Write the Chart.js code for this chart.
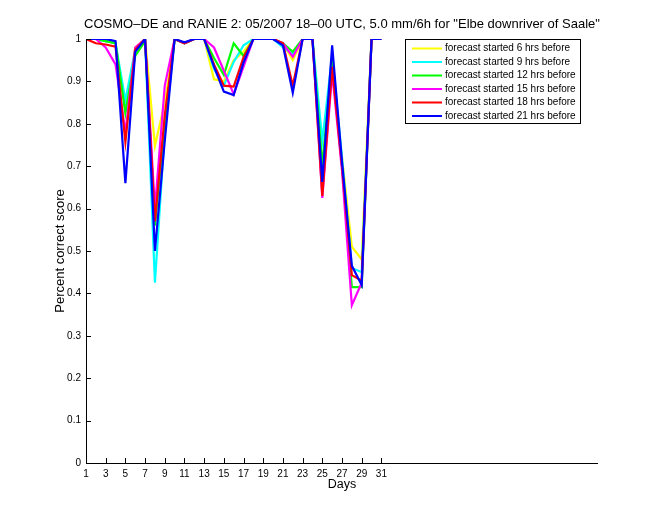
<!DOCTYPE html>
<html>
<head>
<meta charset="utf-8">
<script src="https://cdn.jsdelivr.net/npm/chart.js@4/dist/chart.umd.min.js"></script>
<style>
html,body{margin:0;padding:0;background:#fff;}
canvas{display:block;}
</style>
</head>
<body>
<canvas id="c" width="660" height="520"></canvas>
<script>
const days = [1,2,3,4,5,6,7,8,9,10,11,12,13,14,15,16,17,18,19,20,21,22,23,24,25,26,27,28,29,30,31];
const seriesNames = ['forecast started 6 hrs before','forecast started 9 hrs before','forecast started 12 hrs before','forecast started 15 hrs before','forecast started 18 hrs before','forecast started 21 hrs before'];
const seriesColors = ['#ffff00','#00ffff','#00ff00','#ff00ff','#ff0000','#0000ff'];
const fc6h  = [1,1,0.995,0.99,0.83,0.98,1,0.748,0.85,1,0.99,1,1,0.905,0.9,0.95,0.97,1,1,1,0.99,0.95,1,1,0.70,0.93,0.72,0.51,0.48,1,1];
const fc9h  = [1,1,0.995,0.99,0.855,0.975,1,0.425,0.78,1,0.99,1,1,0.93,0.89,0.946,0.985,1,1,1,0.98,0.965,1,1,0.76,0.96,0.72,0.46,0.45,1,1];
const fc12h = [1,1,0.995,0.99,0.825,0.96,0.995,0.56,0.80,1,0.99,1,1,0.955,0.915,0.99,0.96,1,1,1,0.99,0.97,1,1,0.70,0.95,0.70,0.415,0.415,1,1];
const fc15h = [1,1,0.98,0.94,0.78,0.98,1,0.60,0.89,1,0.99,1,1,0.98,0.925,0.87,0.935,1,1,1,0.99,0.958,1,1,0.625,0.92,0.69,0.372,0.425,1,1];
const fc18h = [1,0.99,0.987,0.982,0.757,0.975,1,0.57,0.82,1,0.99,1,1,0.94,0.89,0.888,0.957,1,1,1,0.99,0.89,1,1,0.63,0.935,0.70,0.443,0.43,1,1];
const fc21h = [1,1,1,0.995,0.66,0.97,1,0.50,0.76,1,0.992,1,1,0.935,0.876,0.868,0.945,1,1,1,0.985,0.873,1,1,0.663,0.985,0.71,0.465,0.42,1,1];
const xTicks = [1,3,5,7,9,11,13,15,17,19,21,23,25,27,29,31];
const yTicks = [0,0.1,0.2,0.3,0.4,0.5,0.6,0.7,0.8,0.9,1];
const yTickLabels = ['0','0.1','0.2','0.3','0.4','0.5','0.6','0.7','0.8','0.9','1'];
const titleText = 'COSMO\u2013DE and RANIE 2: 05/2007 18\u201300 UTC, 5.0 mm/6h for "Elbe downriver of Saale"';
const xLabel = 'Days';
const yLabel = 'Percent correct score';

const allSeries = [fc6h, fc9h, fc12h, fc15h, fc18h, fc21h];
const FONT = 'Liberation Sans, Arial, Helvetica, sans-serif';

const datasets = allSeries.map((s, i) => ({
  label: seriesNames[i],
  data: days.map((d, j) => ({x: d, y: s[j]})),
  borderColor: seriesColors[i],
  backgroundColor: seriesColors[i],
  borderWidth: 2.2,
  pointRadius: 0,
  tension: 0,
  fill: false,
  order: allSeries.length - i
}));

const decor = {
  id: 'decor',
  afterDraw(chart) {
    const ctx = chart.ctx;
    const a = chart.chartArea;
    const xs = chart.scales.x, ys = chart.scales.y;
    ctx.save();
    ctx.strokeStyle = '#000';
    ctx.lineWidth = 1;
    ctx.beginPath();
    ctx.moveTo(Math.round(a.left) + 0.5, a.top);
    ctx.lineTo(Math.round(a.left) + 0.5, Math.round(a.bottom) + 0.5);
    ctx.lineTo(a.right, Math.round(a.bottom) + 0.5);
    xTicks.forEach(v => {
      const px = Math.round(xs.getPixelForValue(v)) + 0.5;
      ctx.moveTo(px, a.bottom);
      ctx.lineTo(px, a.bottom - 5);
    });
    yTicks.forEach(v => {
      const py = Math.round(ys.getPixelForValue(v)) + 0.5;
      ctx.moveTo(a.left, py);
      ctx.lineTo(a.left + 5, py);
    });
    ctx.stroke();

    ctx.fillStyle = '#000';
    ctx.font = '13px ' + FONT;
    ctx.textAlign = 'center';
    ctx.textBaseline = 'middle';
    ctx.fillText(titleText, (a.left + a.right) / 2, 24);
    ctx.font = '12.5px ' + FONT;
    ctx.fillText(xLabel, (a.left + a.right) / 2, 485);
    ctx.save();
    ctx.translate(60, (a.top + a.bottom) / 2);
    ctx.rotate(-Math.PI / 2);
    ctx.font = '13px ' + FONT;
    ctx.fillText(yLabel, 0, 0);
    ctx.restore();

    const lx = 405, ly = 39, lw = 175, lh = 84;
    ctx.fillStyle = '#fff';
    ctx.fillRect(lx, ly, lw, lh);
    ctx.strokeStyle = '#000';
    ctx.lineWidth = 1;
    ctx.strokeRect(lx + 0.5, ly + 0.5, lw, lh);
    ctx.font = '10px ' + FONT;
    ctx.textAlign = 'left';
    ctx.textBaseline = 'middle';
    seriesNames.forEach((name, i) => {
      const y = ly + 9.5 + i * 13.5;
      ctx.strokeStyle = seriesColors[i];
      ctx.lineWidth = 2;
      ctx.beginPath();
      ctx.moveTo(lx + 7, y);
      ctx.lineTo(lx + 37, y);
      ctx.stroke();
      ctx.fillStyle = '#000';
      ctx.fillText(name, lx + 40, y);
    });
    ctx.restore();
  }
};

new Chart(document.getElementById('c'), {
  type: 'line',
  data: { datasets },
  options: {
    responsive: false,
    animation: false,
    devicePixelRatio: 1,
    layout: { padding: { left: 0, top: 39, right: 62, bottom: 0 } },
    plugins: { legend: { display: false }, title: { display: false }, tooltip: { enabled: false } },
    scales: {
      x: {
        type: 'linear',
        min: 1, max: 53,
        afterBuildTicks: s => { s.ticks = xTicks.map(v => ({ value: v })); },
        afterFit: s => { s.height = 57; },
        grid: { display: false, drawTicks: false },
        border: { display: false },
        ticks: { color: '#000', font: { family: FONT, size: 10 }, padding: 5, maxRotation: 0, autoSkip: false,
                 callback: v => String(v) }
      },
      y: {
        type: 'linear',
        min: 0, max: 1,
        afterBuildTicks: s => { s.ticks = yTicks.map(v => ({ value: v })); },
        afterFit: s => { s.width = 86; },
        grid: { display: false, drawTicks: false },
        border: { display: false },
        ticks: { color: '#000', font: { family: FONT, size: 10 }, padding: 5,
                 callback: (v, i) => yTickLabels[i] }
      }
    }
  },
  plugins: [decor]
});
</script>
</body>
</html>
